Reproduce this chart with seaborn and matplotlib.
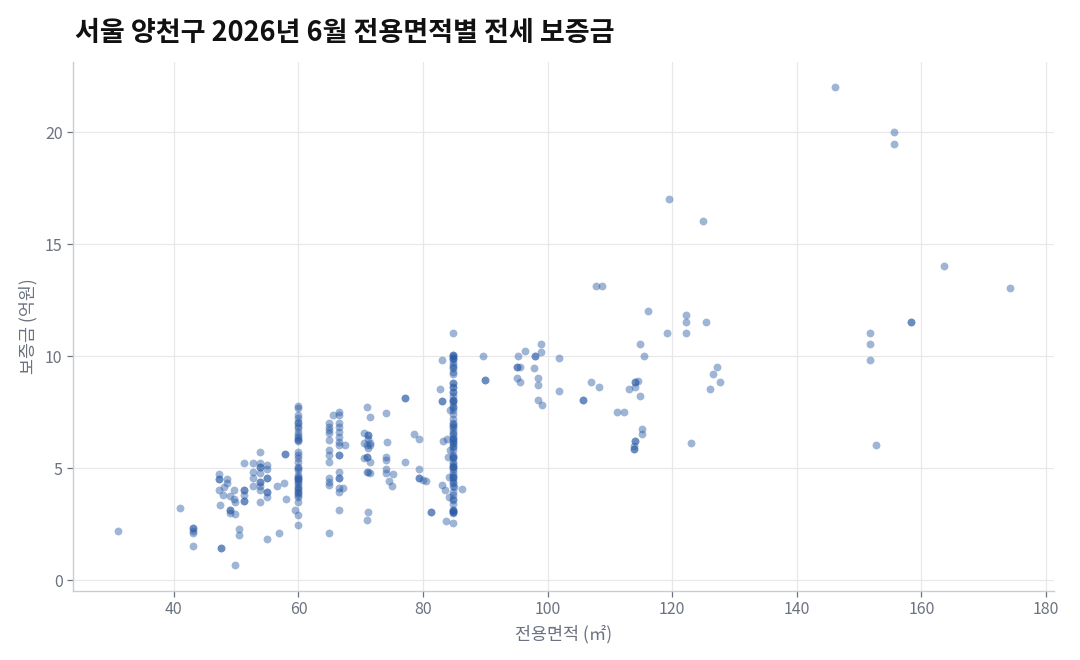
import matplotlib
matplotlib.use("Agg")
import matplotlib.pyplot as plt
import seaborn as sns
import pandas as pd

# 전용면적 (㎡)
area = [
    31.0, 40.9, 43.1, 43.1, 43.1, 43.1, 43.1,
    47.5, 47.5, 49.8, 47.2, 47.2, 47.2, 48.6, 48.6, 48.0, 47.2, 49.7, 47.8, 49.0,
    49.7, 49.8, 47.4, 49.0, 49.0, 49.0, 49.8, 50.5, 50.5,
    51.3, 52.7, 52.7, 52.7, 52.7, 51.3, 51.3, 51.3, 51.3, 51.3,
    53.8, 53.8, 53.8, 53.8, 53.8, 53.8, 53.8, 53.8, 53.8, 53.8,
    54.9, 54.9, 54.9, 54.9, 54.9, 54.9, 54.9, 55.0,
    56.6, 56.9, 57.8, 57.8, 57.7, 58.0, 59.4,
    59.9, 59.9, 59.9, 59.9, 59.9, 59.9, 59.9, 59.9, 59.9, 59.9, 59.9, 59.9, 59.9,
    59.9, 59.9, 59.9, 59.9, 59.9, 59.9, 59.9, 59.9, 59.9, 59.9, 59.9, 59.9, 59.9,
    59.9, 59.9, 59.9, 59.9, 59.9, 59.9, 59.9, 59.9, 59.9, 59.9, 59.9, 59.9,
    64.9, 64.9, 64.9, 64.9, 64.9, 64.9, 64.9, 64.9, 64.9, 64.9, 64.9, 64.9, 65.5,
    66.5, 66.5, 66.5, 66.5, 66.5, 66.5, 66.5, 66.5, 66.5, 66.5, 66.5, 66.5, 66.5,
    66.5, 66.5, 66.5, 67.5, 67.2,
    71.0, 71.5, 70.5, 71.2, 71.2, 71.2, 70.5, 71.5, 71.5, 71.0, 71.2, 70.5, 71.0,
    71.0, 71.5, 71.5, 71.0, 71.2, 71.2, 71.0,
    74.0, 74.2, 74.0, 74.0, 74.0, 74.0, 74.5, 75.2, 75.0, 77.1, 77.1, 77.1, 78.5,
    79.4, 79.3, 79.3, 79.3, 80.0, 80.4, 81.3,
    84.8, 84.8, 84.8, 84.8, 84.8, 84.8, 84.8, 84.8, 84.8, 84.8, 84.8, 84.8, 84.8,
    84.8, 84.8, 84.8, 84.8, 84.8, 84.8, 84.8, 84.8, 84.8, 84.8, 84.8, 84.8, 84.8,
    84.8, 84.8, 84.8, 84.8, 84.8, 84.8, 84.8, 84.8, 84.8, 84.8, 84.8, 84.8, 84.8,
    84.8, 84.8, 84.8, 84.8, 84.8, 84.8, 84.8, 84.8, 84.8, 84.8, 84.8, 84.8, 84.8,
    84.8, 84.8, 84.8, 84.8, 84.8, 84.8, 84.8, 84.8, 84.8, 84.8, 84.8, 84.8, 84.8,
    84.8, 84.8, 84.8, 84.8, 84.8, 84.8, 84.8, 84.8, 84.8, 84.8,
    83.0, 82.7, 83.1, 83.1, 83.8, 84.0, 84.2, 83.0, 83.5, 86.2, 81.2, 83.6, 85.0,
    83.2, 84.3, 84.4, 84.1,
    89.6, 89.9, 95.2, 96.3, 99.0, 99.0, 98.0, 98.0, 101.8, 95.0, 95.0, 95.5, 97.8,
    90.0, 95.1, 95.6, 98.5, 98.5, 101.9, 106.9, 108.2, 98.5, 99.1, 105.6, 105.6,
    107.7, 108.7,
    111.1, 112.2, 113.1, 114.1, 114.1, 114.1, 114.5, 114.9, 115.2, 115.2, 114.1,
    114.1, 113.8, 113.8, 113.8, 114.9, 115.5, 116.1, 119.1, 119.5, 122.2, 122.2,
    122.2, 123.0, 125.0, 125.4, 126.0, 126.6, 127.2, 127.6,
    146.1, 151.8, 151.8, 151.8, 152.7, 155.6, 155.6, 158.4, 158.4, 163.6, 174.3,
]

# 보증금 (억원)
deposit = [
    2.20, 3.21, 2.34, 2.34, 2.20, 2.08, 1.52,
    1.41, 1.41, 0.67, 4.72, 4.51, 4.51, 4.51, 4.32, 4.17, 4.02, 4.02, 3.79, 3.76,
    3.61, 3.49, 3.37, 3.13, 3.13, 3.00, 2.95, 2.28, 2.00,
    5.21, 5.21, 4.84, 4.55, 4.20, 4.02, 4.02, 3.79, 3.51, 3.51,
    5.71, 5.21, 5.03, 5.03, 4.76, 4.38, 4.38, 4.20, 4.02, 3.48,
    5.13, 4.94, 4.57, 4.57, 3.94, 3.94, 3.72, 1.82,
    4.20, 2.11, 5.65, 5.65, 4.32, 3.60, 3.13,
    7.78, 7.70, 7.37, 7.22, 7.07, 7.00, 6.77, 6.62, 6.47, 6.30, 6.25, 5.73, 5.58,
    5.43, 5.28, 5.06, 4.91, 4.61, 4.50, 4.46, 4.17, 4.02, 3.95, 3.87, 3.72, 3.50,
    2.90, 2.46, 6.90, 6.40, 4.40, 4.30, 4.10, 3.80, 5.00, 4.70, 4.55, 6.20,
    7.00, 6.85, 6.55, 6.25, 5.80, 5.58, 5.28, 4.54, 4.39, 4.24, 2.08, 6.70, 7.37,
    7.51, 7.37, 7.00, 6.85, 6.62, 6.40, 6.18, 6.03, 5.58, 5.58, 4.84, 4.54, 4.54,
    4.10, 3.94, 3.13, 6.03, 4.13,
    7.74, 7.29, 6.55, 6.47, 6.47, 6.32, 6.10, 6.10, 6.05, 6.03, 5.88, 5.43, 5.50,
    5.50, 5.28, 4.76, 4.84, 4.84, 3.02, 2.68,
    7.44, 6.18, 5.50, 5.35, 4.94, 4.76, 4.43, 4.73, 4.20, 8.15, 8.11, 5.28, 6.52,
    6.32, 4.95, 4.54, 4.54, 4.46, 4.43, 3.02,
    11.01, 10.04, 10.00, 9.90, 9.75, 9.60, 9.45, 9.30, 9.20, 8.78, 8.60, 8.41, 8.20,
    8.04, 8.00, 7.89, 7.74, 7.59, 7.40, 7.20, 6.99, 6.90, 6.85, 6.70, 6.55, 6.40,
    6.32, 6.20, 6.10, 6.00, 5.95, 5.80, 5.51, 5.45, 5.28, 5.10, 5.06, 4.84, 4.70,
    4.61, 4.50, 4.32, 4.20, 3.94, 3.80, 3.57, 3.40, 3.13, 3.05, 2.98, 2.53, 9.85,
    9.50, 8.60, 7.00, 6.50, 5.60, 5.20, 4.95, 4.40, 3.60, 3.10, 10.04, 9.90, 8.78,
    8.41, 8.04, 7.74, 6.32, 6.10, 5.51, 5.06, 4.61, 3.13, 3.05,
    9.82, 8.53, 8.00, 8.00, 6.32, 5.51, 4.61, 4.24, 4.00, 4.08, 3.02, 2.65, 4.15,
    6.20, 7.60, 5.80, 3.70,
    10.01, 8.93, 10.01, 10.22, 10.52, 10.20, 10.01, 10.01, 9.93, 9.52, 9.52, 9.52, 9.48,
    8.93, 9.02, 8.83, 9.02, 8.72, 8.42, 8.83, 8.62, 8.02, 7.81, 8.04, 8.04,
    13.13, 13.13,
    7.51, 7.51, 8.51, 8.60, 8.83, 8.83, 8.91, 8.21, 6.73, 6.52, 6.22,
    6.22, 6.00, 5.87, 5.87, 10.52, 10.01, 12.02, 11.03, 17.02, 11.83, 11.52,
    11.03, 6.12, 16.03, 11.52, 8.53, 9.21, 9.52, 8.83,
    22.02, 11.01, 10.52, 9.82, 6.01, 20.01, 19.45, 11.52, 11.52, 14.02, 13.02,
]

x_ticks = [40, 60, 80, 100, 120, 140, 160, 180]
y_ticks = [0, 5, 10, 15, 20]

df = pd.DataFrame({"area": area, "deposit": deposit})

sns.set_theme(style="whitegrid")
plt.rcParams["font.family"] = ["Noto Sans CJK KR", "DejaVu Sans"]

fig = plt.figure(figsize=(10.8, 6.6), dpi=100)
ax = fig.add_axes([0.0676, 0.1045, 0.9084, 0.8015])

sns.scatterplot(data=df, x="area", y="deposit", ax=ax,
                color="#2B5BA5", alpha=0.45, s=32, linewidth=0)

ax.set_xlim(23.8, 181.3)
ax.set_ylim(-0.49, 23.13)
ax.set_xticks(x_ticks)
ax.set_yticks(y_ticks)

ax.grid(True, color="#e8e8ea", linewidth=0.9)
for side in ["top", "right"]:
    ax.spines[side].set_visible(False)
for side in ["left", "bottom"]:
    ax.spines[side].set_visible(True)
    ax.spines[side].set_color("#c8ccd4")
    ax.spines[side].set_linewidth(1.0)

ax.tick_params(axis="both", colors="#6b7280", labelsize=11.5, length=4,
               width=0.9, left=True, bottom=True)
ax.set_xlabel("전용면적 (㎡)", color="#6b7280", fontsize=12.5, labelpad=5)
ax.set_ylabel("보증금 (억원)", color="#6b7280", fontsize=12.5, labelpad=5)

fig.text(0.069, 0.950, "서울 양천구 2026년 6월 전용면적별 전세 보증금",
         fontsize=19.5, fontweight="bold", color="#111111", va="center", ha="left")

fig.savefig("out.png", dpi=100)
